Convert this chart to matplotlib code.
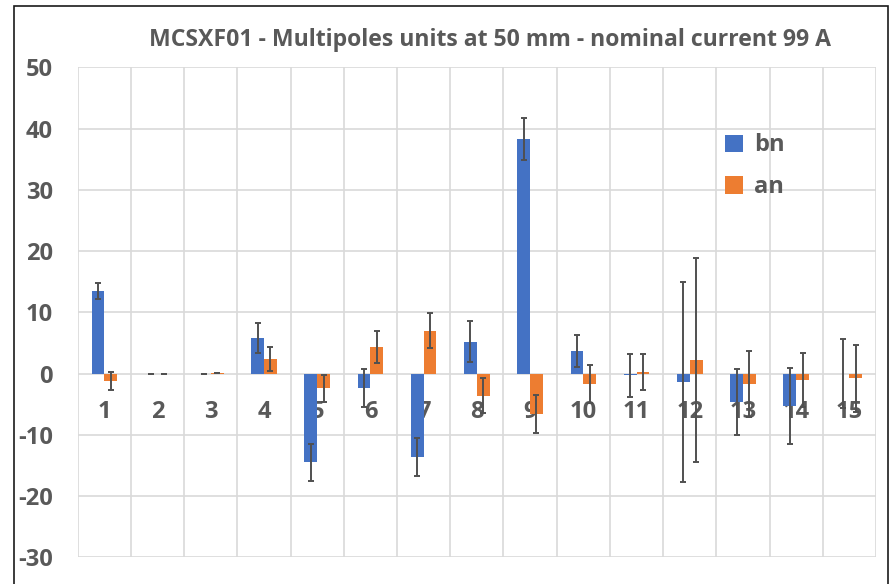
import matplotlib
matplotlib.use("Agg")
import matplotlib.pyplot as plt
import numpy as np
from matplotlib.patches import Rectangle

categories = [str(i) for i in range(1, 16)]
bn = [13.5, 0, 0, 5.8, -14.5, -2.3, -13.6, 5.2, 38.3, 3.65, -0.25, -1.35, -4.6, -5.3, 0]
bn_err = [1.3, 0, 0, 2.45, 3.0, 3.1, 3.1, 3.3, 3.4, 2.6, 3.5, 16.3, 5.4, 6.2, 5.6]
an = [-1.2, 0, 0.12, 2.35, -2.4, 4.4, 7.0, -3.6, -6.6, -1.7, 0.2, 2.2, -1.7, -1.0, -0.8]
an_err = [1.5, 0, 0, 2.0, 2.2, 2.6, 2.9, 2.8, 3.1, 3.1, 2.95, 16.6, 5.4, 4.4, 5.5]
yticks = [50, 40, 30, 20, 10, 0, -10, -20, -30]
title = "MCSXF01 - Multipoles units at 50 mm - nominal current 99 A"

plt.rcParams['font.family'] = ['Open Sans', 'DejaVu Sans']
gray = '#595959'
blue = '#4472C4'
orange = '#ED7D31'

fig = plt.figure(figsize=(8.94, 5.84), dpi=100)
ax = fig.add_axes([77.7/894, 1-557.3/584, (876-77.7)/894, (557.3-67.3)/584])

x = np.arange(len(categories))
w = 0.24
ax.bar(x - w/2, bn, width=w, color=blue, label='bn', zorder=2)
ax.bar(x + w/2, an, width=w, color=orange, label='an', zorder=2)
ax.errorbar(x - w/2, bn, yerr=bn_err, fmt='none', ecolor='#505050', elinewidth=1.4,
            capsize=2.3, capthick=1.4, zorder=3)
ax.errorbar(x + w/2, an, yerr=an_err, fmt='none', ecolor='#505050', elinewidth=1.4,
            capsize=2.3, capthick=1.4, zorder=3)

ax.spines['bottom'].set_position(('data', 0))
for s in ax.spines.values():
    s.set_visible(False)

ax.set_xlim(-0.5, len(categories) - 0.5)
ax.set_ylim(-30, 50)
ax.set_yticks(yticks)
ax.set_yticklabels([str(v) for v in yticks])
ax.set_xticks(x)
ax.set_xticklabels(categories)
ax.tick_params(axis='y', length=0, pad=18, labelsize=17, labelcolor=gray)
ax.tick_params(axis='x', length=0, pad=19, labelsize=17, labelcolor=gray)
for lab in ax.get_xticklabels() + ax.get_yticklabels():
    lab.set_fontweight('bold')
    lab.set_zorder(1)

for v in yticks:
    ax.axhline(v, color='#D9D9D9', lw=1.2, zorder=0)
for b in np.arange(-0.5, len(categories), 1.0):
    ax.axvline(b, color='#D9D9D9', lw=1.2, zorder=0)

fig.text(490.5/894, 1-40/584, title, ha='center', va='center', fontsize=16.6,
         fontweight='bold', color=gray)

leg = fig.legend(loc='upper left', bbox_to_anchor=(716/894, 1-124/584), frameon=False,
                 prop={'size': 17, 'weight': 'bold'}, handlelength=0.75, handleheight=0.75,
                 handletextpad=0.45, labelspacing=0.75, borderaxespad=0)
for t in leg.get_texts():
    t.set_color(gray)

fig.patches.append(Rectangle((14/894, -0.1), (888-14)/894, 1.1 - 6/584, transform=fig.transFigure,
                             fill=False, edgecolor='#1a1a1a', lw=1.2))

fig.savefig('out.png', dpi=100)
